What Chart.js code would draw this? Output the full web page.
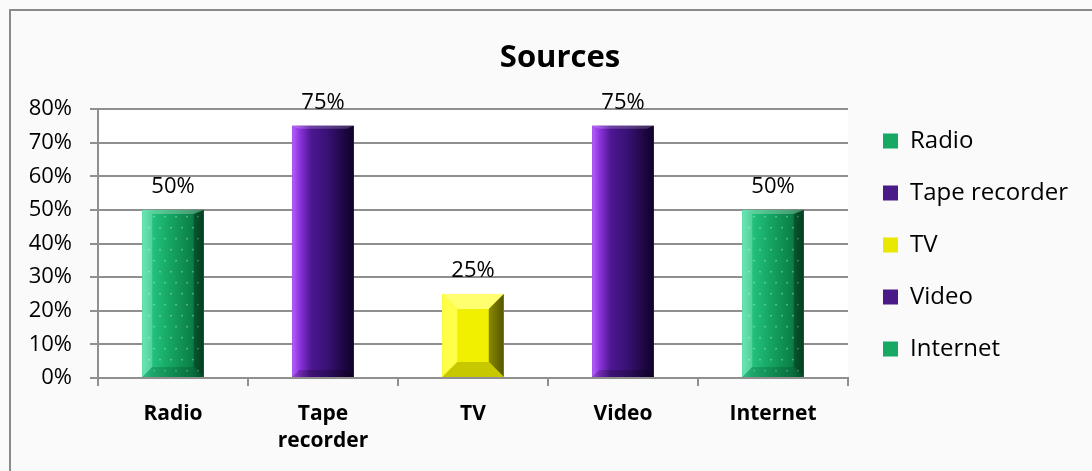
<!DOCTYPE html>
<html>
<head>
<meta charset="utf-8">
<script src="https://cdn.jsdelivr.net/npm/chart.js@4.4.1/dist/chart.umd.min.js"></script>
<style>
html,body{margin:0;padding:0;background:#fafafa;overflow:hidden;}
#wrap{position:relative;width:1092px;height:471px;}
#frame{position:absolute;left:9px;top:9px;width:1200px;height:600px;border-left:2px solid #8a8a8a;border-top:2px solid #8a8a8a;box-sizing:border-box;}
#c{position:absolute;left:0;top:0;}
</style>
</head>
<body>
<div id="wrap"><div id="frame"></div><canvas id="c" width="1092" height="471"></canvas></div>
<script>
// ---- data ----
const chartTitle = 'Sources';
const categories = ['Radio', ['Tape', 'recorder'], 'TV', 'Video', 'Internet'];
const seriesNames = ['Radio', 'Tape recorder', 'TV', 'Video', 'Internet'];
const seriesValues = [0.50, 0.75, 0.25, 0.75, 0.50];
const yMin = 0, yMax = 0.8, yStep = 0.1;

// ---- styles ----
const FONT = "'Open Sans', 'DejaVu Sans', sans-serif";
const legendColors = ['#17a864', '#4a1a88', '#e8e800', '#4a1a88', '#17a864'];
const barStyles = ['green', 'purple', 'yellow', 'purple', 'green'];

const datasets = seriesNames.map((name, i) => ({
  label: name,
  data: categories.map((_, j) => (j === i ? seriesValues[i] : null)),
  backgroundColor: legendColors[i],
  borderWidth: 0,
  skipNull: true,
  categoryPercentage: 1,
  barPercentage: 0.41
}));

function paintBar(ctx, style, l, r, t, b) {
  const w = r - l, h = b - t;
  ctx.save();
  if (style === 'green') {
    const g = ctx.createLinearGradient(l, 0, r, 0);
    g.addColorStop(0, '#3ee0a0'); g.addColorStop(0.18, '#22c07c');
    g.addColorStop(0.5, '#14a05e'); g.addColorStop(0.82, '#0b7e46'); g.addColorStop(1, '#05562c');
    ctx.fillStyle = g; ctx.fillRect(l, t, w, h);
    ctx.fillStyle = 'rgba(190,255,225,0.45)';
    for (let yy = t + 6; yy < b - 4; yy += 11) {
      for (let xx = l + 6; xx < r - 3; xx += 11) {
        ctx.fillRect(xx + ((Math.round((yy - t) / 11) % 2) * 5), yy, 1.6, 1.6);
      }
    }
    const s = 10;
    ctx.fillStyle = 'rgba(255,255,255,0.22)';
    ctx.beginPath(); ctx.moveTo(l, t); ctx.lineTo(l + s, t + 4); ctx.lineTo(l + s, b - s); ctx.lineTo(l, b); ctx.fill();
    ctx.fillStyle = 'rgba(0,0,0,0.28)';
    ctx.beginPath(); ctx.moveTo(r, t); ctx.lineTo(r - s, t + 4); ctx.lineTo(r - s, b - s); ctx.lineTo(r, b); ctx.fill();
    ctx.fillStyle = 'rgba(0,40,20,0.18)';
    ctx.beginPath(); ctx.moveTo(l, b); ctx.lineTo(l + s, b - s); ctx.lineTo(r - s, b - s); ctx.lineTo(r, b); ctx.fill();
    ctx.fillStyle = 'rgba(255,255,255,0.25)';
    ctx.beginPath(); ctx.moveTo(l, t); ctx.lineTo(l + s, t + 4); ctx.lineTo(r - s, t + 4); ctx.lineTo(r, t); ctx.fill();
  } else if (style === 'purple') {
    const g = ctx.createLinearGradient(l, 0, r, 0);
    g.addColorStop(0, '#b85cff'); g.addColorStop(0.12, '#8c34dc'); g.addColorStop(0.3, '#4e1792');
    g.addColorStop(0.6, '#361070'); g.addColorStop(0.85, '#1e0642'); g.addColorStop(1, '#10022a');
    ctx.fillStyle = g; ctx.fillRect(l, t, w, h);
    const s = 7;
    ctx.fillStyle = 'rgba(255,255,255,0.18)';
    ctx.beginPath(); ctx.moveTo(l, t); ctx.lineTo(l + s, t + 3); ctx.lineTo(r - s, t + 3); ctx.lineTo(r, t); ctx.fill();
    ctx.fillStyle = 'rgba(0,0,0,0.2)';
    ctx.beginPath(); ctx.moveTo(l, b); ctx.lineTo(l + s, b - s); ctx.lineTo(r - s, b - s); ctx.lineTo(r, b); ctx.fill();
  } else {
    ctx.fillStyle = '#f0f000'; ctx.fillRect(l, t, w, h);
    const s = 15;
    ctx.fillStyle = '#ffff70';
    ctx.beginPath(); ctx.moveTo(l, t); ctx.lineTo(l + s, t + s); ctx.lineTo(r - s, t + s); ctx.lineTo(r, t); ctx.fill();
    ctx.fillStyle = '#ffff4a';
    ctx.beginPath(); ctx.moveTo(l, t); ctx.lineTo(l + s, t + s); ctx.lineTo(l + s, b - s); ctx.lineTo(l, b); ctx.fill();
    const g = ctx.createLinearGradient(r - s, 0, r, 0);
    g.addColorStop(0, '#8a8a00'); g.addColorStop(1, '#545400');
    ctx.fillStyle = g;
    ctx.beginPath(); ctx.moveTo(r, t); ctx.lineTo(r - s, t + s); ctx.lineTo(r - s, b - s); ctx.lineTo(r, b); ctx.fill();
    ctx.fillStyle = '#c8c800';
    ctx.beginPath(); ctx.moveTo(l, b); ctx.lineTo(l + s, b - s); ctx.lineTo(r - s, b - s); ctx.lineTo(r, b); ctx.fill();
  }
  ctx.restore();
}

const decor = {
  id: 'decor',
  beforeLayout(chart) {
    const lg = chart.legend;
    if (lg && !lg._patched) {
      const f = lg.fit;
      lg.fit = function () {
        const mh = this.maxHeight;
        this.maxHeight = 3000;
        f.call(this);
        this.maxHeight = mh;
        this.width = 244;
        this.height = mh;
      };
      lg._patched = true;
    }
  },
  afterLayout(chart) {
    const lg = chart.legend;
    if (lg) {
      lg.left = 855; lg.right = 1092; lg.width = 237;
      lg.top = 100; lg.bottom = 390; lg.height = 290;
    }
  },
  beforeDraw(chart) {
    const { ctx, chartArea: a } = chart;
    ctx.save();
    ctx.fillStyle = '#ffffff';
    ctx.fillRect(a.left, a.top, a.right - a.left, a.bottom - a.top);
    ctx.restore();
  },
  afterDatasetsDraw(chart) {
    const ctx = chart.ctx;
    chart.data.datasets.forEach((ds, i) => {
      const meta = chart.getDatasetMeta(i);
      meta.data.forEach((el, j) => {
        const v = ds.data[j];
        if (v === null || v === undefined) return;
        const p = el.getProps(['x', 'y', 'base', 'width'], true);
        const l = p.x - p.width / 2, r = p.x + p.width / 2;
        paintBar(ctx, barStyles[i], l, r, p.y, p.base);
        ctx.save();
        ctx.fillStyle = '#000';
        ctx.font = '22px ' + FONT;
        ctx.textAlign = 'center';
        ctx.textBaseline = 'alphabetic';
        ctx.fillText(Math.round(v * 100) + '%', p.x, p.y - 17);
        ctx.restore();
      });
    });
  },
  afterDraw(chart) {
    const ctx = chart.ctx;
    ctx.save();
    ctx.fillStyle = '#000';
    ctx.font = 'bold 31px ' + FONT;
    ctx.textAlign = 'center';
    ctx.textBaseline = 'alphabetic';
    ctx.fillText(chartTitle, 560, 67);
    ctx.restore();
  }
};

new Chart(document.getElementById('c'), {
  type: 'bar',
  data: { labels: categories, datasets },
  options: {
    responsive: false,
    animation: false,
    layout: { padding: { top: 109, left: 10, right: 0, bottom: 0 } },
    plugins: {
      title: { display: false },
      tooltip: { enabled: false },
      legend: {
        display: true,
        position: 'right',
        fullSize: false,
        labels: {
          color: '#000',
          font: { family: FONT, size: 24 },
          boxWidth: 15,
          boxHeight: 15,
          padding: 28,
          generateLabels: () => seriesNames.map((n, i) => ({
            text: n, fillStyle: legendColors[i], strokeStyle: legendColors[i], lineWidth: 0, datasetIndex: i
          }))
        }
      }
    },
    scales: {
      x: {
        offset: true,
        grid: { display: true, drawOnChartArea: false, offset: true, tickLength: 8, color: '#8f8f8f', lineWidth: 2 },
        border: { display: true, color: '#8f8f8f', width: 2 },
        ticks: { color: '#000', font: { family: FONT, size: 21, weight: 'bold', lineHeight: 1.3 }, padding: 14, maxRotation: 0, autoSkip: false },
        afterFit: (axis) => { axis.height = 93; }
      },
      y: {
        min: yMin, max: yMax,
        grid: { color: '#8f8f8f', lineWidth: 2, tickLength: 8 },
        border: { display: true, color: '#8f8f8f', width: 2 },
        ticks: { stepSize: yStep, color: '#000', font: { family: FONT, size: 22 }, padding: 18,
          callback: (v) => Math.round(v * 100) + '%' },
        afterFit: (axis) => { axis.width = 88; }
      }
    }
  },
  plugins: [decor]
});
</script>
</body>
</html>
